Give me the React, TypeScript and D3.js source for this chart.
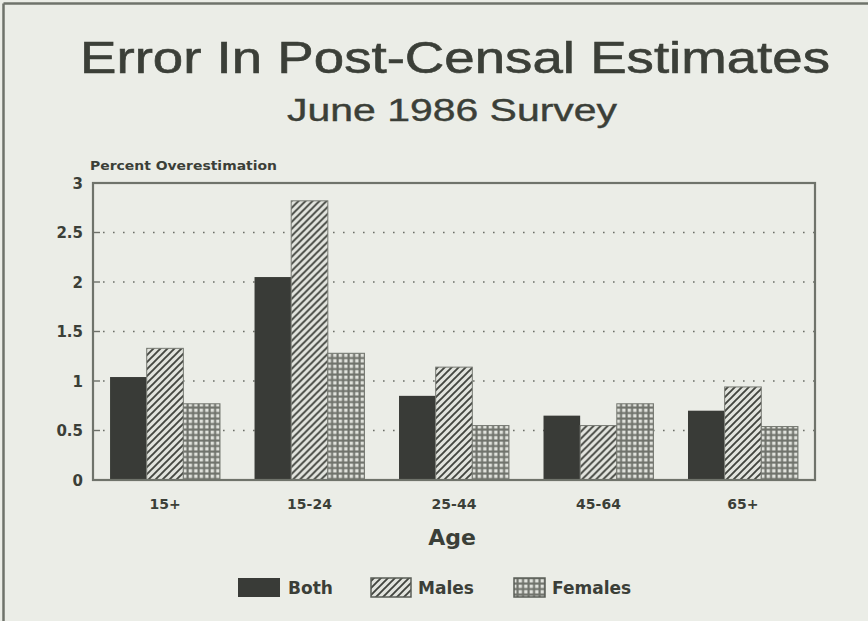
import React from "react";
import * as d3 from "d3";

// Age groups and percent overestimation by series
const categories = ["15+", "15-24", "25-44", "45-64", "65+"];
const bothValues = [1.04, 2.05, 0.85, 0.65, 0.7];
const malesValues = [1.33, 2.82, 1.14, 0.55, 0.94];
const femalesValues = [0.77, 1.28, 0.55, 0.77, 0.54];
const seriesNames = ["Both", "Males", "Females"];
const yTicks = [0, 0.5, 1, 1.5, 2, 2.5, 3];

const W = 868;
const H = 621;
const plot = { left: 93, right: 815, top: 183, bottom: 480 };
const ink = "#3b3f38";
const bg = "#ebede7";
const titleFont = "'Liberation Sans', Arial, sans-serif";
const labelFont = "'DejaVu Sans', Verdana, sans-serif";

export default function App() {
  const x0 = d3
    .scaleBand<string>()
    .domain(categories)
    .range([plot.left, plot.right])
    .paddingInner(0.239)
    .paddingOuter(0.118);
  const x1 = d3
    .scaleBand<string>()
    .domain(seriesNames)
    .range([0, x0.bandwidth()]);
  const y = d3.scaleLinear().domain([0, 3]).range([plot.bottom, plot.top]);

  const seriesValues: Record<string, number[]> = {
    Both: bothValues,
    Males: malesValues,
    Females: femalesValues,
  };
  const fills: Record<string, string> = {
    Both: "#393b37",
    Males: "url(#hatch)",
    Females: "url(#grid)",
  };

  const fmt = (v: number) => (v === 0 ? "0" : String(v));

  return (
    <svg
      width={W}
      height={H}
      style={{ position: "absolute", left: 0, top: 0, display: "block" }}
      fontFamily={labelFont}
    >
      <defs>
        <pattern id="hatch" patternUnits="userSpaceOnUse" width={7} height={7}>
          <rect width={7} height={7} fill="#e2e4de" />
          <path
            d="M-1,8 L8,-1 M-2,2 L2,-2 M5,9 L9,5"
            stroke="#42453f"
            strokeWidth={1.9}
          />
        </pattern>
        <pattern id="grid" patternUnits="userSpaceOnUse" width={5.5} height={5.5}>
          <rect width={5.5} height={5.5} fill="#70736c" />
          <rect x={1.6} y={1.6} width={3.4} height={3.4} fill="#e0e2dc" />
        </pattern>
      </defs>

      <rect width={W} height={H} fill={bg} />
      {/* page border: top and left edges */}
      <line x1={3.5} y1={3.5} x2={W} y2={3.5} stroke="#6f736b" strokeWidth={2.5} />
      <line x1={3.5} y1={3.5} x2={3.5} y2={H} stroke="#6f736b" strokeWidth={2.5} />

      {/* titles */}
      <text
        x={455}
        y={73}
        textAnchor="middle"
        fontFamily={titleFont}
        fontSize={44}
        fill={ink}
        stroke={ink}
        strokeWidth={0.6}
        textLength={750}
        lengthAdjust="spacingAndGlyphs"
      >
        Error In Post-Censal Estimates
      </text>
      <text
        x={452}
        y={121}
        textAnchor="middle"
        fontFamily={titleFont}
        fontSize={31}
        fill={ink}
        stroke={ink}
        strokeWidth={0.4}
        textLength={330}
        lengthAdjust="spacingAndGlyphs"
      >
        June 1986 Survey
      </text>
      <text
        x={90}
        y={170}
        fontSize={13}
        fontWeight="bold"
        fill={ink}
        textLength={187}
        lengthAdjust="spacingAndGlyphs"
      >
        Percent Overestimation
      </text>

      {/* gridlines and y ticks */}
      {yTicks.map((t) => (
        <g key={t}>
          {t > 0 && t < 3 && (
            <>
              <line
                x1={plot.left + 10}
                x2={plot.right}
                y1={y(t)}
                y2={y(t)}
                stroke="#6d7069"
                strokeWidth={1.6}
                strokeDasharray="1.6 8.4"
              />
              <line
                x1={plot.left}
                x2={plot.left + 7}
                y1={y(t)}
                y2={y(t)}
                stroke="#6d7069"
                strokeWidth={1.4}
              />
            </>
          )}
          <text
            x={83}
            y={y(t) + 5.5}
            textAnchor="end"
            fontSize={15}
            fontWeight="bold"
            fill={ink}
          >
            {fmt(t)}
          </text>
        </g>
      ))}

      {/* bars */}
      {categories.map((c, i) => (
        <g key={c} transform={`translate(${x0(c)},0)`}>
          {seriesNames.map((s) => {
            const v = seriesValues[s][i];
            return (
              <rect
                key={s}
                x={x1(s)}
                y={y(v)}
                width={x1.bandwidth()}
                height={y(0) - y(v)}
                fill={fills[s]}
                stroke={s === "Both" ? "none" : "#777a73"}
                strokeWidth={1}
              />
            );
          })}
        </g>
      ))}

      {/* plot frame */}
      <rect
        x={plot.left}
        y={plot.top}
        width={plot.right - plot.left}
        height={plot.bottom - plot.top}
        fill="none"
        stroke="#6f736b"
        strokeWidth={2.2}
      />

      {/* category labels */}
      {categories.map((c) => (
        <text
          key={c}
          x={(x0(c) as number) + x0.bandwidth() / 2}
          y={509}
          textAnchor="middle"
          fontSize={14}
          fontWeight="bold"
          fill={ink}
        >
          {c}
        </text>
      ))}
      <text x={452} y={545} textAnchor="middle" fontSize={22} fontWeight="bold" fill={ink}>
        Age
      </text>

      {/* legend */}
      <g>
        <rect x={238} y={578} width={42} height={19} fill="#393b37" />
        <text x={288} y={594} fontSize={17} fontWeight="bold" fill={ink}>
          Both
        </text>
        <rect x={371} y={578} width={40} height={19} fill="url(#hatch)" stroke="#5a5d57" strokeWidth={1.5} />
        <text x={418} y={594} fontSize={17} fontWeight="bold" fill={ink}>
          Males
        </text>
        <rect x={514} y={578} width={31} height={19} fill="url(#grid)" stroke="#5a5d57" strokeWidth={1.5} />
        <text x={552} y={594} fontSize={17} fontWeight="bold" fill={ink}>
          Females
        </text>
      </g>
    </svg>
  );
}
